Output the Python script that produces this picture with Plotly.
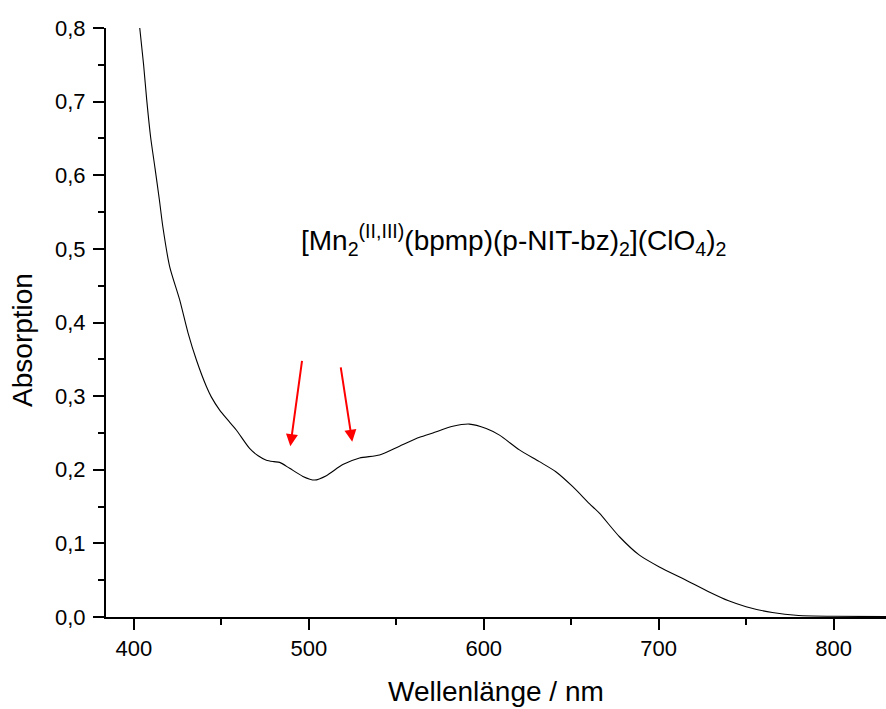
import plotly.graph_objects as go

# UV-Vis spectrum
wavelength_nm = [403.3, 405.5, 407.3, 409.5, 412.0, 414.5, 416.5, 420.4, 426.1, 430.9,
                 435.7, 441.4, 444.2, 449.0, 453.5, 458.5, 466.1, 471.0, 475.7, 480.0,
                 483.3, 489.0, 496.6, 503.3, 510.0, 519.4, 529.0, 540.4, 551.8, 563.3,
                 570.9, 582.3, 591.8, 601.4, 609.0, 620.4, 631.8, 641.4, 650.9, 660.4,
                 666.1, 677.6, 689.0, 700.4, 715.7, 728.9, 740.0, 750.0, 765.0, 780.0,
                 800.0, 830.0]
absorption = [0.800, 0.750, 0.702, 0.652, 0.610, 0.567, 0.530, 0.476, 0.431, 0.386,
              0.349, 0.313, 0.299, 0.281, 0.268, 0.254, 0.229, 0.219, 0.213, 0.211,
              0.210, 0.202, 0.191, 0.186, 0.192, 0.207, 0.216, 0.220, 0.232, 0.244,
              0.250, 0.259, 0.262, 0.256, 0.247, 0.227, 0.211, 0.197, 0.177, 0.154,
              0.141, 0.109, 0.084, 0.068, 0.050, 0.034, 0.022, 0.014, 0.006, 0.002,
              0.001, 0.0005]

x_tick_vals = [400, 500, 600, 700, 800]
y_tick_vals = [0.0, 0.1, 0.2, 0.3, 0.4, 0.5, 0.6, 0.7, 0.8]

# arrows: (tail_x, tail_y, head_x, head_y) in data units
arrow_1 = (496.2, 0.350, 489.4, 0.232)
arrow_2 = (518.1, 0.341, 524.8, 0.238)

compound_label = "[Mn<sub>2</sub><sup>(II,III)</sup>(bpmp)(p-NIT-bz)<sub>2</sub>](ClO<sub>4</sub>)<sub>2</sub>"

FONT = "Liberation Sans, Arial, sans-serif"

fig = go.Figure()
fig.add_trace(go.Scatter(x=wavelength_nm, y=absorption, mode="lines",
                         line=dict(color="black", width=1.1, shape="spline",
                                   smoothing=0.7),
                         showlegend=False, hoverinfo="skip"))

axis_common = dict(showline=True, linecolor="black", linewidth=2, ticks="outside",
                   ticklen=11, tickwidth=2, tickcolor="black", showgrid=False,
                   zeroline=False, tickfont=dict(family=FONT, size=22, color="black"),
                   mirror=False)

fig.update_xaxes(range=[384, 830], tickvals=x_tick_vals,
                 minor=dict(dtick=50, tick0=400, ticks="outside", ticklen=6,
                            tickwidth=2, tickcolor="black"),
                 ticklabelstandoff=0, **axis_common)
fig.update_yaxes(range=[0, 0.8], tickvals=y_tick_vals, tickformat=".1f",
                 minor=dict(dtick=0.05, tick0=0, ticks="outside", ticklen=6,
                            tickwidth=2, tickcolor="black"),
                 ticklabelstandoff=3, **axis_common)

annotations = [
    dict(text="Wellenlänge / nm", xref="paper", yref="paper", x=0.5, y=-0.126,
         xanchor="center", yanchor="middle", showarrow=False,
         font=dict(family=FONT, size=28, color="black")),
    dict(text="Absorption", xref="paper", yref="paper", x=-0.108, y=0.47,
         xanchor="center", yanchor="middle", showarrow=False, textangle=-90,
         font=dict(family=FONT, size=28, color="black")),
    dict(text=compound_label, xref="x", yref="y", x=494.5, y=0.542,
         xanchor="left", yanchor="top", showarrow=False,
         font=dict(family=FONT, size=28, color="black")),
]
for tx, ty, hx, hy in (arrow_1, arrow_2):
    annotations.append(dict(x=hx, y=hy, ax=tx, ay=ty, xref="x", yref="y",
                            axref="x", ayref="y", text="", showarrow=True,
                            arrowhead=2, arrowsize=1.2, arrowwidth=2,
                            arrowcolor="red"))

fig.update_layout(width=886, height=709, margin=dict(l=106, r=0, t=28, b=92),
                  paper_bgcolor="white", plot_bgcolor="white",
                  separators=", ", annotations=annotations,
                  font=dict(family=FONT, color="black"))

fig.write_html("out.html")
